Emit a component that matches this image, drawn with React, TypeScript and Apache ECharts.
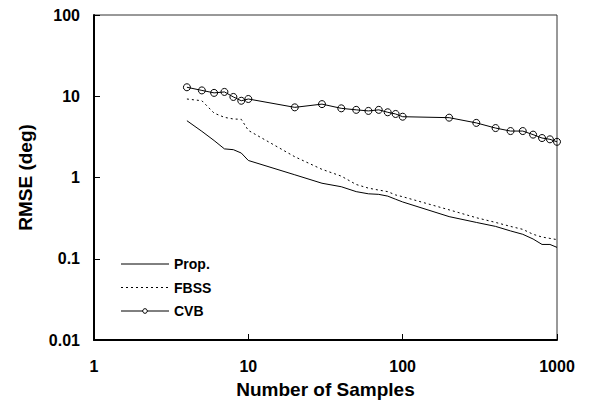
import React, { useEffect, useRef } from "react";
import * as echarts from "echarts";

const samples = [4, 5, 6, 7, 8, 9, 10, 20, 30, 40, 50, 60, 70, 80, 90, 100, 200, 300, 400, 500, 600, 700, 800, 900, 1000];
const propValues = [5.0, 3.7, 2.85, 2.25, 2.2, 2.0, 1.62, 1.08, 0.85, 0.77, 0.67, 0.63, 0.62, 0.59, 0.54, 0.5, 0.33, 0.28, 0.25, 0.22, 0.2, 0.175, 0.15, 0.15, 0.138];
const fbssValues = [9.25, 8.8, 6.2, 5.5, 5.25, 5.2, 3.8, 1.8, 1.26, 1.04, 0.82, 0.74, 0.7, 0.67, 0.61, 0.58, 0.4, 0.32, 0.28, 0.25, 0.23, 0.2, 0.185, 0.178, 0.172];
const cvbValues = [12.9, 11.8, 11.0, 11.3, 9.8, 8.8, 9.25, 7.3, 8.0, 7.1, 6.8, 6.6, 6.8, 6.35, 6.05, 5.6, 5.45, 4.7, 4.06, 3.73, 3.73, 3.37, 3.06, 2.95, 2.75];
const seriesNames = ["Prop.", "FBSS", "CVB"];
const xTickLabels = ["1", "10", "100", "1000"];
const yTickLabels = ["0.01", "0.1", "1", "10", "100"];

const FONT = "Liberation Sans, Arial, sans-serif";

export default function App() {
  const ref = useRef<HTMLDivElement>(null);
  useEffect(() => {
    document.body.style.margin = "0";
    if (!ref.current) return;
    const chart = echarts.init(ref.current, null, { renderer: "svg" });
    const pairs = (vals: number[]) => samples.map((s, i) => [s, vals[i]]);
    const fmt = (labels: string[]) => (v: number) => {
      const s = String(+v.toPrecision(6));
      return labels.includes(s) ? s : "";
    };
    const legendX0 = 121;
    const legendX1 = 169;
    const legendYs = [264, 287.5, 311];
    const legendDash = [null, [2, 3], null];
    const legendGraphics: any[] = [];
    seriesNames.forEach((name, i) => {
      legendGraphics.push({
        type: "line",
        shape: { x1: legendX0, y1: legendYs[i], x2: legendX1, y2: legendYs[i] },
        style: { stroke: "#000", lineWidth: 1, lineDash: legendDash[i] || undefined },
      });
      if (i === 2) {
        legendGraphics.push({
          type: "circle",
          shape: { cx: (legendX0 + legendX1) / 2, cy: legendYs[i], r: 2.3 },
          style: { fill: "#fff", stroke: "#000", lineWidth: 1 },
        });
      }
      legendGraphics.push({
        type: "text",
        x: 174,
        y: legendYs[i],
        style: {
          text: name,
          fontFamily: FONT,
          fontWeight: "bold",
          fontSize: 14,
          fill: "#000",
          verticalAlign: "middle",
          align: "left",
        },
      });
    });
    chart.setOption({
      animation: false,
      backgroundColor: "#fff",
      grid: {
        left: 94,
        right: 35,
        top: 15,
        bottom: 68,
        show: true,
        borderColor: "#333",
        borderWidth: 1,
        backgroundColor: "transparent",
      },
      graphic: legendGraphics,
      xAxis: {
        type: "log",
        logBase: 10,
        min: 1,
        max: 1000,
        name: "Number of Samples",
        nameLocation: "middle",
        nameGap: 40,
        nameTextStyle: { fontFamily: FONT, fontWeight: "bold", fontSize: 19, color: "#000" },
        axisLine: { show: true, lineStyle: { color: "#000", width: 2 } },
        axisTick: { show: true, inside: true, length: 6, lineStyle: { color: "#000", width: 1 } },
        minorTick: { show: false },
        splitLine: { show: false },
        axisLabel: {
          margin: 18,
          formatter: fmt(xTickLabels),
          fontFamily: FONT,
          fontWeight: "bold",
          fontSize: 16,
          color: "#000",
        },
      },
      yAxis: {
        type: "log",
        logBase: 10,
        min: 0.01,
        max: 100,
        name: "RMSE (deg)",
        nameLocation: "middle",
        nameGap: 59,
        nameTextStyle: { fontFamily: FONT, fontWeight: "bold", fontSize: 19, color: "#000" },
        axisLine: { show: true, lineStyle: { color: "#000", width: 2 } },
        axisTick: { show: true, inside: true, length: 6, lineStyle: { color: "#000", width: 1 } },
        splitLine: { show: false },
        axisLabel: {
          margin: 14,
          formatter: fmt(yTickLabels),
          fontFamily: FONT,
          fontWeight: "bold",
          fontSize: 16,
          color: "#000",
        },
      },
      series: [
        {
          name: seriesNames[0],
          type: "line",
          data: pairs(propValues),
          symbol: "none",
          lineStyle: { color: "#000", width: 1 },
          itemStyle: { color: "#000" },
        },
        {
          name: seriesNames[1],
          type: "line",
          data: pairs(fbssValues),
          symbol: "none",
          lineStyle: { color: "#000", width: 1, type: [2, 3] },
          itemStyle: { color: "#000" },
        },
        {
          name: seriesNames[2],
          type: "line",
          data: pairs(cvbValues),
          symbol: "circle",
          symbolSize: 7,
          lineStyle: { color: "#000", width: 1 },
          itemStyle: { color: "transparent", borderColor: "#000", borderWidth: 1 },
        },
      ],
    });
    return () => chart.dispose();
  }, []);
  return <div ref={ref} style={{ width: 592, height: 408 }} />;
}
